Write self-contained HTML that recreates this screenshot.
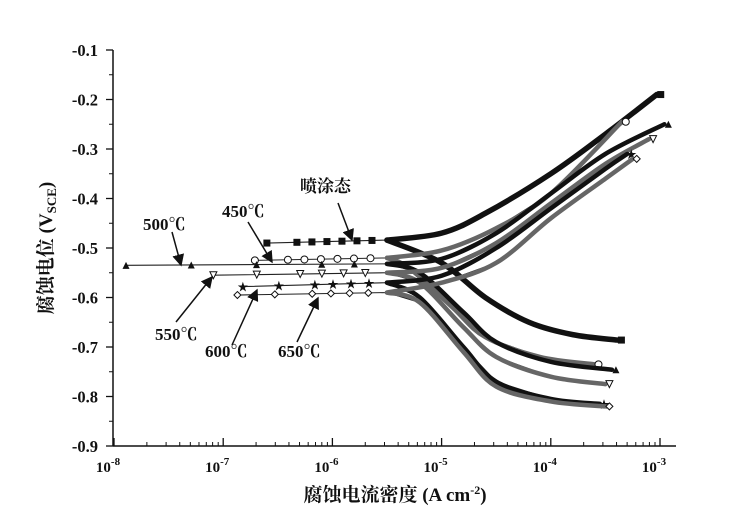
<!DOCTYPE html>
<html><head><meta charset="utf-8"><style>
body{margin:0;background:#fff}
svg{display:block}
text{font-family:"Liberation Serif","Noto Serif CJK SC",serif;font-weight:bold;fill:#111}
</style></head><body>
<svg id="c" width="750" height="524" viewBox="0 0 750 524">
<g id="axes"></g><g id="series"></g><g id="ann"></g>
</svg>
<script>
const yTicks=[-0.1,-0.2,-0.3,-0.4,-0.5,-0.6,-0.7,-0.8,-0.9];
const xDecades=[-8,-7,-6,-5,-4,-3];
const seriesNames=["spray","t450","t500","t550","t600","t650"];
const seriesMarkers=["square","circle","triangle","downtri","star","diamond"];
const anodicLogI=[
[-6.6,-5.5,-5,-4.6,-4,-3.5,-3.03],
[-6.71,-5.5,-5,-4.5,-4,-3.35],
[-7.89,-5.5,-5,-4.5,-4,-3.5,-2.96],
[-7.09,-5.5,-5,-4.5,-4,-3.5,-3.1],
[-6.82,-5.5,-5,-4.5,-4,-3.5,-3.3],
[-6.87,-5.5,-5,-4.5,-4,-3.5,-3.25]];
const anodicE=[
[-0.49,-0.484,-0.47,-0.43,-0.35,-0.27,-0.19],
[-0.525,-0.52,-0.505,-0.46,-0.39,-0.245],
[-0.535,-0.532,-0.522,-0.47,-0.39,-0.31,-0.25],
[-0.555,-0.55,-0.54,-0.49,-0.41,-0.33,-0.28],
[-0.578,-0.57,-0.556,-0.5,-0.42,-0.34,-0.31],
[-0.595,-0.59,-0.57,-0.53,-0.44,-0.36,-0.32]];
const cathodicLogI=[
[-5.5,-5,-4.6,-4.2,-3.8,-3.39],
[-5.5,-5.3,-4.9,-4.6,-4.1,-3.6],
[-5.5,-5.2,-4.8,-4.5,-4,-3.44],
[-5.5,-5.2,-4.8,-4.5,-4,-3.5],
[-5.5,-5.2,-4.8,-4.5,-4,-3.55],
[-5.5,-5.2,-4.8,-4.5,-4,-3.5]];
const cathodicE=[
[-0.484,-0.53,-0.6,-0.65,-0.675,-0.686],
[-0.52,-0.54,-0.62,-0.68,-0.72,-0.735],
[-0.532,-0.55,-0.63,-0.69,-0.73,-0.746],
[-0.55,-0.57,-0.66,-0.72,-0.76,-0.775],
[-0.57,-0.6,-0.7,-0.77,-0.805,-0.815],
[-0.59,-0.61,-0.71,-0.78,-0.81,-0.82]];
const NS="http://www.w3.org/2000/svg";
const X0=114,DEC=109.2,Y0=50,YS=495,L=113,R=676,T=50,B=446;
function xs(l){return X0+(l+8)*DEC}
function ys(e){return Y0+(-0.1-e)*YS}
function mk(tag,a,p){const el=document.createElementNS(NS,tag);for(const k in a)el.setAttribute(k,a[k]);p.appendChild(el);return el}
function smooth(P){if(P.length<3)return 'M'+P.map(p=>p.join(',')).join(' L');
 let d='M'+P[0][0]+','+P[0][1];
 for(let i=0;i<P.length-1;i++){const p0=P[Math.max(0,i-1)],p1=P[i],p2=P[i+1],p3=P[Math.min(P.length-1,i+2)];
  const c1=[p1[0]+(p2[0]-p0[0])/6,p1[1]+(p2[1]-p0[1])/6],c2=[p2[0]-(p3[0]-p1[0])/6,p2[1]-(p3[1]-p1[1])/6];
  d+=` C${c1[0]},${c1[1]} ${c2[0]},${c2[1]} ${p2[0]},${p2[1]}`;}
 return d;}
const ax=document.getElementById('axes');
let e;
e=mk('line',{x1:L,y1:T,x2:L,y2:B,stroke:'#111','stroke-width':1.5},ax);

e=mk('line',{x1:L,y1:B,x2:R,y2:B,stroke:'#111','stroke-width':1.5},ax);

yTicks.forEach((v,i)=>{const y=ys(v);
 mk('line',{x1:L-7,y1:y,x2:L,y2:y,stroke:'#111','stroke-width':1.3},ax);
 if(i<yTicks.length-1)mk('line',{x1:L-4,y1:y+YS*0.05,x2:L,y2:y+YS*0.05,stroke:'#111','stroke-width':1},ax);
 const t=mk('text',{x:98,y:y+6,'text-anchor':'end','font-size':16.5},ax);t.textContent=v.toFixed(1);
 });
xDecades.forEach((d,i)=>{const x=xs(d);
 mk('line',{x1:x,y1:B,x2:x,y2:B-8,stroke:'#111','stroke-width':1.3},ax);
 if(i<xDecades.length-1)for(let m=2;m<10;m++){const xm=xs(d+Math.log10(m));mk('line',{x1:xm,y1:B,x2:xm,y2:B-4,stroke:'#111','stroke-width':1},ax);}
 const t=mk('text',{x:x-6,y:472,'text-anchor':'middle','font-size':15},ax);
 t.innerHTML='10<tspan dy="-7" font-size="11">'+d+'</tspan>';
 });
const xt=mk('text',{x:395,y:501,'text-anchor':'middle','font-size':19},ax);
xt.innerHTML='腐蚀电流密度 (A cm<tspan dy="-7" font-size="12">-2</tspan><tspan dy="7">)</tspan>';

const yt=mk('text',{transform:'translate(52,248) rotate(-90)','text-anchor':'middle','font-size':19},ax);
yt.innerHTML='腐蚀电位 (V<tspan dy="4" font-size="13">SCE</tspan><tspan dy="-4">)</tspan>';

function marker(type,x,y,p){const s=3.5;let el;
 const fill=(type==='square'||type==='triangle'||type==='star')?'#111':'#fff';
 if(type==='square')el=mk('rect',{x:x-s,y:y-s,width:2*s,height:2*s,fill},p);
 else if(type==='circle')el=mk('circle',{cx:x,cy:y,r:s,fill,stroke:'#111'},p);
 else if(type==='triangle')el=mk('polygon',{points:`${x},${y-s} ${x-s},${y+s} ${x+s},${y+s}`,fill},p);
 else if(type==='downtri')el=mk('polygon',{points:`${x},${y+s} ${x-s},${y-s} ${x+s},${y-s}`,fill,stroke:'#111'},p);
 else if(type==='star')el=mk('text',{x:x,y:y+4,'text-anchor':'middle','font-size':11},p),el.textContent='★';
 else el=mk('polygon',{points:`${x},${y-s} ${x+s},${y} ${x},${y+s} ${x-s},${y}`,fill,stroke:'#111'},p);
 return el;}
const sg=document.getElementById('series');
function interp(ls,es,n){const out=[];for(let i=0;i<ls.length-1;i++)for(let k=0;k<n;k++){const t=k/n;out.push([ls[i]+(ls[i+1]-ls[i])*t,es[i]+(es[i+1]-es[i])*t]);}out.push([ls[ls.length-1],es[es.length-1]]);return out}
seriesNames.forEach((nm,si)=>{
 const g=mk('g',{},sg);
 [[anodicLogI[si],anodicE[si],'anodic'],[cathodicLogI[si],cathodicE[si],'cathodic']].forEach(([ls,es,br])=>{
  const pts=ls.map((l,i)=>xs(l)+','+ys(es[i])).join(' ');
  const thin=mk('polyline',{points:pts,fill:'none',stroke:'#222','stroke-width':1.1},g);
  
  const dense=[];ls.forEach((l,i)=>{if(l>=-5.6)dense.push([xs(l),ys(es[i])])});
  if(dense.length>1){const c=(si%2===1)?'#666':'#111';
   const th=mk('path',{d:smooth(dense),fill:'none',stroke:c,'stroke-width':(si===0?5.5:4.5),'stroke-linecap':'round'},g);
   }
  const ip=interp(ls,es,8).filter(p=>p[0]<-5.5);
  ip.forEach((p,k)=>{if(k%2===0||p[0]>-6.3){const m=marker(seriesMarkers[si],xs(p[0]),ys(p[1]),g);
   }});
  const last=ls.length-1;const m=marker(seriesMarkers[si],xs(ls[last])+4,ys(es[last]),g);
  
 });
});
const an=document.getElementById('ann');
mk('defs',{},an).innerHTML='<marker id="ah" markerWidth="8" markerHeight="8" refX="7" refY="4" orient="auto"><path d="M0,0 L8,4 L0,8 z" fill="#111"/></marker>';
const labels=[["喷涂态",300,192,338,203,352,240,"label-spray"],["450℃",222,217,248,222,272,262,"label-450"],["500℃",143,230,172,232,181,265,"label-500"],["550℃",155,340,176,322,212,277,"label-550"],["600℃",205,357,232,345,257,290,"label-600"],["650℃",278,357,297,342,318,298,"label-650"]];
labels.forEach(l=>{const t=mk('text',{x:l[1],y:l[2],'font-size':17},an);t.textContent=l[0];
 
 const a=mk('line',{x1:l[3],y1:l[4],x2:l[5],y2:l[6],stroke:'#111','stroke-width':1.5,'marker-end':'url(#ah)'},an);
 });
</script>
</body></html>
